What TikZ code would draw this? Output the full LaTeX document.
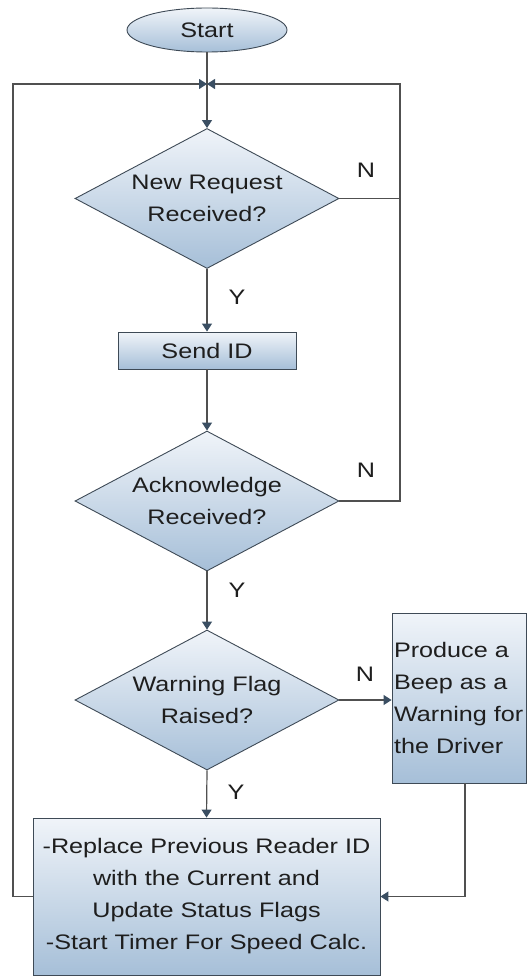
\documentclass[tikz,border=0pt]{standalone}
\usepackage{fontspec}
\setmainfont{Liberation Sans}[FakeStretch=1.2]
\usetikzlibrary{shapes.geometric,arrows.meta}
\definecolor{edgec}{HTML}{505050}
\definecolor{tipc}{HTML}{3A4E62}
\definecolor{topc}{HTML}{F0F4F9}
\definecolor{botc}{HTML}{A6BFD8}
\definecolor{bordc}{HTML}{3E4A56}
\definecolor{txtc}{HTML}{1E1E1E}
\begin{document}
\begin{tikzpicture}[x=1pt,y=-1pt,
  font=\fontsize{21}{32}\selectfont, text=txtc,
  shaded/.style={draw=bordc, line width=0.9pt, top color=topc, bottom color=botc},
  decision/.style={shaded, diamond, inner sep=0pt, minimum width=264pt, minimum height=140pt},
  process/.style={shaded, rectangle, inner sep=0pt},
  terminal/.style={shaded, ellipse, inner sep=0pt, minimum width=160pt, minimum height=44pt},
  flow/.style={draw=edgec, line width=1.2pt},
  arr/.style={flow, -{Triangle[length=8pt,width=10pt,color=tipc]}},
  yn/.style={inner sep=0pt}]
\useasboundingbox (0,0) rectangle (528,976);

% shapes
\node[terminal] (start) at (207,30) {Start};
\node[decision, label={[align=center]center:New Request\\Received?}] (d1) at (207,198.5) {};
\node[process, minimum width=178pt, minimum height=37pt] (send) at (207,350.5) {Send ID};
\node[decision, label={[align=center]center:Acknowledge\\Received?}] (d2) at (207,501) {};
\node[decision, label={[align=center]center:Warning Flag\\Raised?}] (d3) at (207,700) {};
\node[process, minimum height=170pt, text width=130pt, inner xsep=2pt, align=left] (warn) at (459,698)
  {Produce a\\Beep as a\\Warning for\\the Driver};
\node[process, minimum width=347pt, minimum height=157pt, align=center] (final) at (206.5,896.5)
  {-Replace Previous Reader ID\\with the Current and\\Update Status Flags\\-Start Timer For Speed Calc.};

% loop junction and return corners
\coordinate (j) at (207,84);
\coordinate (rtop) at (400,84);
\coordinate (rmid) at (400,198.5);
\coordinate (ltop) at (13,84);

% main flow
\draw[flow] (start) -- (j);
\draw[arr] (j) -- (d1.north);
\draw[arr] (d1.south) -- (send.north);
\draw[arr] (send.south) -- (d2.north);
\draw[arr] (d2.south) -- (d3.north);
\draw[arr] (d3.south) -- (final.north);
\draw[arr] (d3.east) -- (d3.east -| warn.west);
\draw[arr] ([xshift=6pt]warn.south) |- (final.east);

% "no" branches back to the top
\draw[arr] (d1.east) -| (rtop) -- (j);
\draw[flow] (d2.east) -| (rmid);
\draw[arr] (final.west) -| (ltop) -- (j);

% branch labels
\node[yn] (y1) at (237,297) {Y};
\node[yn] (y2) at (237,590) {Y};
\node[yn] (y3) at (236,792) {Y};
\node[yn] (n1) at (366,170) {N};
\node[yn] (n2) at (366,470) {N};
\node[yn] (n3) at (365,674) {N};
\end{tikzpicture}
\end{document}
